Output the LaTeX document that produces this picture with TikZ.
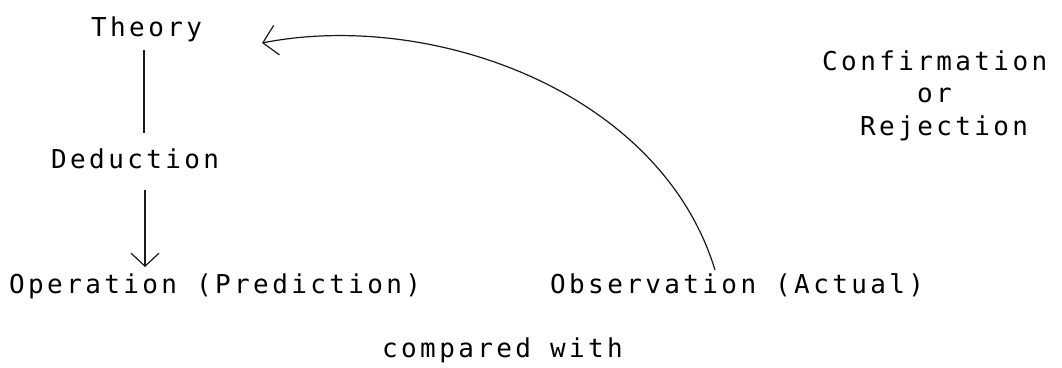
\documentclass[tikz,border=0pt]{standalone}
\usepackage{fontspec}
\usetikzlibrary{arrows.meta}
\newfontfamily\twfont{DejaVu Sans Mono}[LetterSpace=13]
\tikzset{
  lbl/.style={anchor=base west, inner sep=0pt, font=\twfont\fontsize{26pt}{32pt}\selectfont},
  conn/.style={line width=1.2pt, draw=black!90},
  barb/.style={-{Straight Barb[length=13pt,width=28pt,line width=1.2pt]}},
  barbc/.style={-{Straight Barb[length=14pt,width=30pt,line width=1.2pt]}}
}
\begin{document}
\begin{tikzpicture}[x=1pt,y=-1pt]
\useasboundingbox (0,0) rectangle (1062,367);
% text nodes
\node[lbl] (theory) at (91,36) {Theory};
\node[lbl] (deduction) at (51,168) {Deduction};
\node[lbl] (operation) at (9,293) {Operation (Prediction)};
\node[lbl] (observation) at (550,293) {Observation (Actual)};
\node[lbl] (compared) at (382,357) {compared with};
\node[lbl] (confirm) at (822,70) {Confirmation};
\node[lbl] (or) at (917,102) {or};
\node[lbl] (reject) at (860,135) {Rejection};
% connector end points
\coordinate (tb) at (144,50);
\coordinate (dt) at (144,133);
\coordinate (db) at (145,190);
\coordinate (ot) at (145,267);
\coordinate (obs) at (715,270);
\coordinate (th) at (262,43);
% connectors
\draw[conn] (tb) -- (dt);
\draw[conn,barb] (db) -- (ot);
\draw[conn,barbc] (obs) .. controls (660,90) and (430,10) .. (th);
\end{tikzpicture}
\end{document}
